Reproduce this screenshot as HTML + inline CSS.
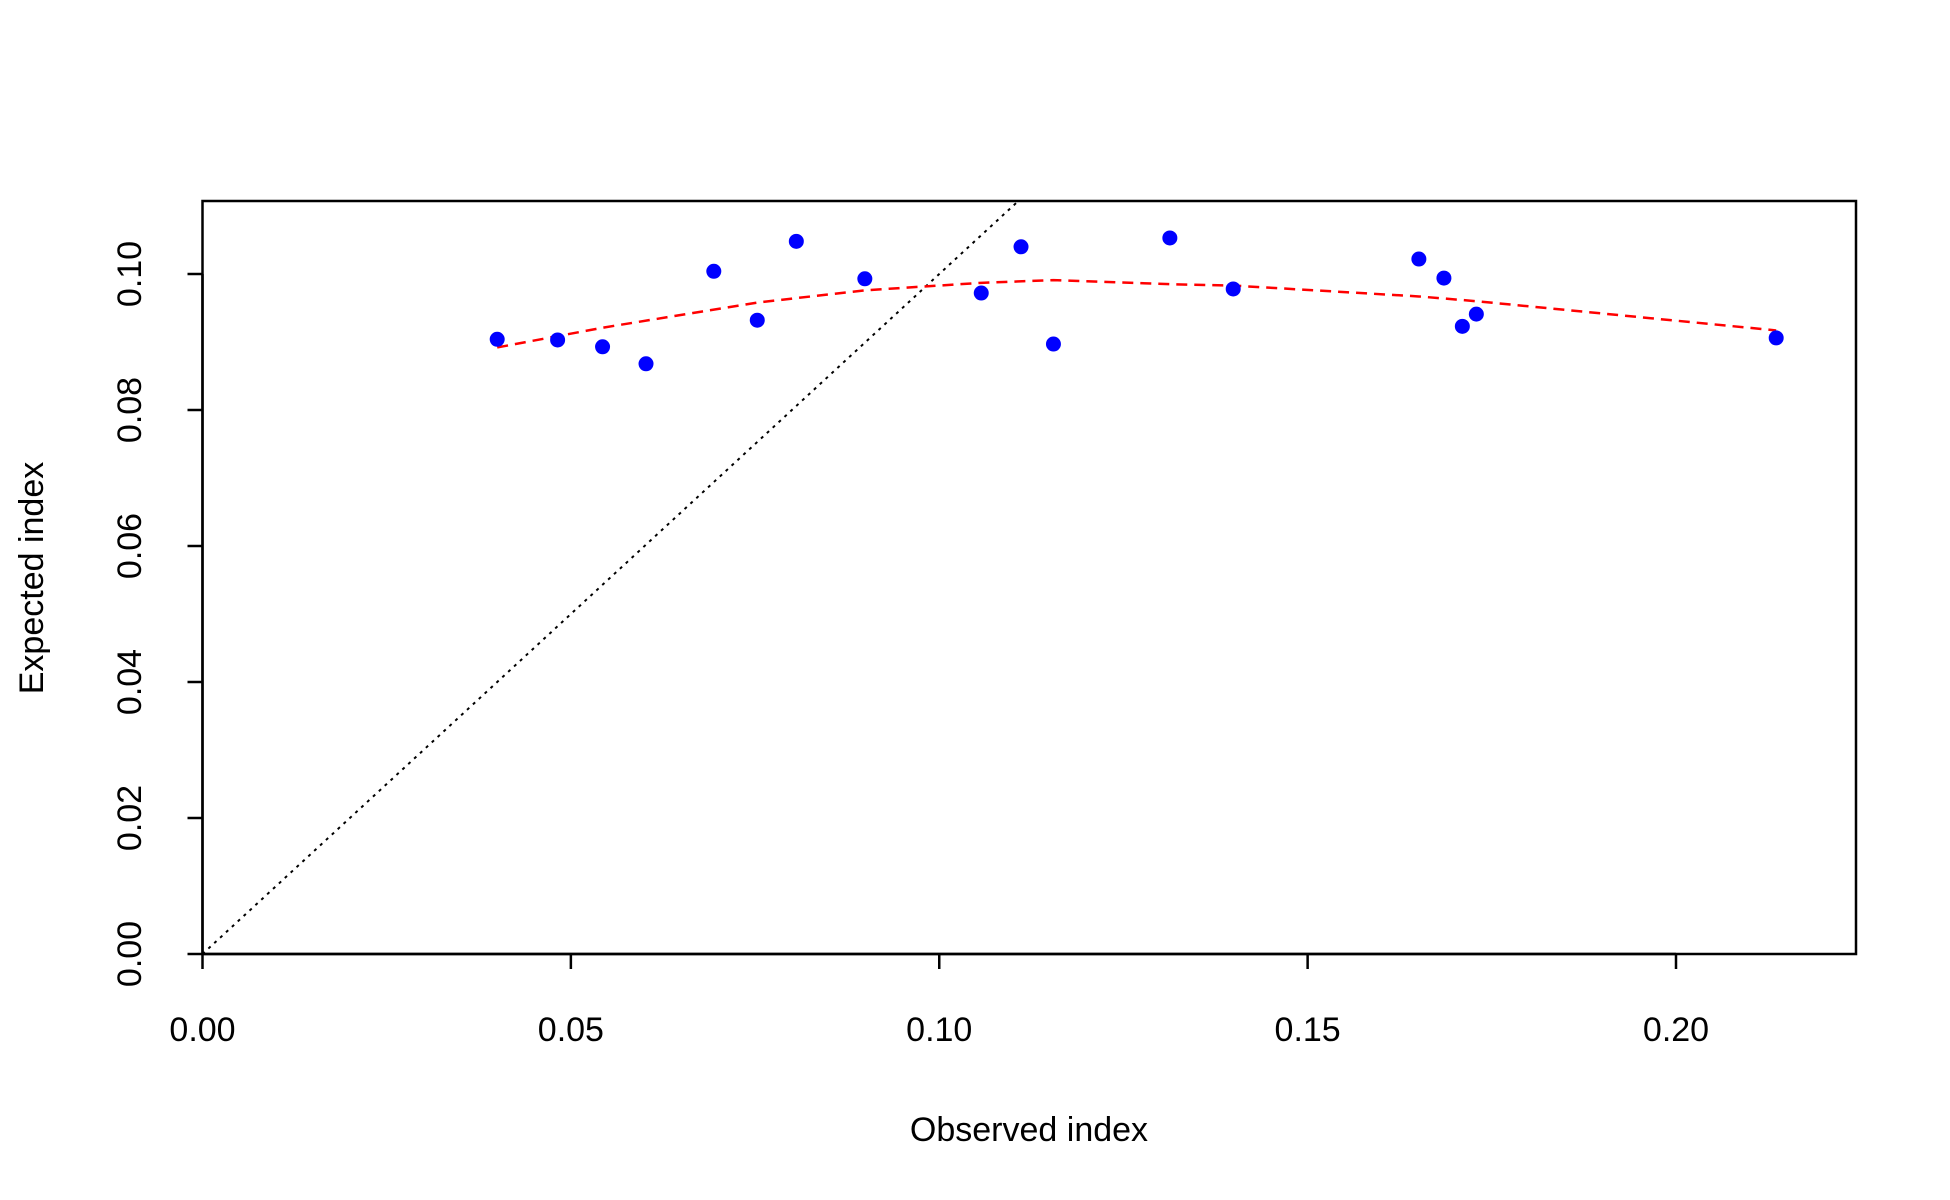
<!DOCTYPE html>
<html><head><meta charset="utf-8"><style>
html,body{margin:0;padding:0;background:#fff;}
svg{display:block;font-family:"Liberation Sans",Arial,sans-serif;}
</style></head><body>
<svg id="chart" width="1950" height="1200" xmlns="http://www.w3.org/2000/svg">
<g id="plot"></g>
</svg>
<script>
const obsX = [0.0400,0.0482,0.0543,0.0602,0.0694,0.0753,0.0806,0.0899,0.1057,0.1111,0.1155,0.1313,0.1399,0.1651,0.1685,0.1710,0.1729,0.2136];
const expY = [0.0904,0.0903,0.0893,0.0868,0.1004,0.0932,0.1048,0.0993,0.0972,0.1040,0.0897,0.1053,0.0978,0.1022,0.0994,0.0923,0.0941,0.0906];
const smoothX = [0.040,0.0543,0.0753,0.0899,0.1057,0.1155,0.1313,0.1399,0.1651,0.1729,0.2136];
const smoothY = [0.0892,0.0921,0.0958,0.0976,0.0987,0.0991,0.0985,0.0983,0.0967,0.0960,0.0917];
const xTicks = [0,0.05,0.10,0.15,0.20];
const xTickLabels = ["0.00","0.05","0.10","0.15","0.20"];
const yTicks = [0,0.02,0.04,0.06,0.08,0.10];
const yTickLabels = ["0.00","0.02","0.04","0.06","0.08","0.10"];

const L=202.5,R=1856,T=201,B=954;
const xs=v=>202.5+v*7367.5;
const ys=v=>954-v*6800;
const NS="http://www.w3.org/2000/svg";
const g=document.getElementById('plot');
function mk(tag,attrs,parent){const e=document.createElementNS(NS,tag);for(const k in attrs)e.setAttribute(k,attrs[k]);(parent||g).appendChild(e);return e;}

const defs=mk('defs',{});
const cp=mk('clipPath',{id:'clip'},defs);
mk('rect',{x:L,y:T,width:R-L,height:B-T},cp);

// diagonal y=x
const diag=mk('line',{x1:xs(0),y1:ys(0),x2:xs(0.2),y2:ys(0.2),stroke:'#000','stroke-width':2,'stroke-dasharray':'3,5','clip-path':'url(#clip)'});



// smooth line
const sm=mk('polyline',{points:smoothX.map((x,i)=>xs(x)+','+ys(smoothY[i])).join(' '),fill:'none',stroke:'#ff0000','stroke-width':2.5,'stroke-dasharray':'11,7'});



// points
obsX.forEach((x,i)=>{
  const c=mk('circle',{cx:xs(x),cy:ys(expY[i]),r:7.5,fill:'#0000ff'});
  
  
});

// box
const box=mk('rect',{x:L,y:T,width:R-L,height:B-T,fill:'none',stroke:'#000','stroke-width':2.5});



// x axis
const xa=mk('line',{x1:xs(0),y1:B,x2:xs(0.2),y2:B,stroke:'#000','stroke-width':2.5});


xTicks.forEach((v,i)=>{
  const t=mk('line',{x1:xs(v),y1:B,x2:xs(v),y2:B+15,stroke:'#000','stroke-width':2.5});
  
  
  const tx=mk('text',{x:xs(v),y:1041,'font-size':34,'text-anchor':'middle'});
  tx.textContent=xTickLabels[i];
  
  
});
// y axis
const ya=mk('line',{x1:L,y1:ys(0),x2:L,y2:ys(0.1),stroke:'#000','stroke-width':2.5});


yTicks.forEach((v,i)=>{
  const t=mk('line',{x1:L,y1:ys(v),x2:L-15,y2:ys(v),stroke:'#000','stroke-width':2.5});
  
  
  const tx=mk('text',{x:0,y:0,'font-size':34,'text-anchor':'middle',transform:`translate(141,${ys(v)}) rotate(-90)`});
  tx.textContent=yTickLabels[i];
  
  
});
const xt=mk('text',{x:1029,y:1141,'font-size':34,'text-anchor':'middle'});
xt.textContent='Observed index';


const yt=mk('text',{x:0,y:0,'font-size':34,'text-anchor':'middle',transform:'translate(43,578) rotate(-90)'});
yt.textContent='Expected index';


</script>
</body></html>
